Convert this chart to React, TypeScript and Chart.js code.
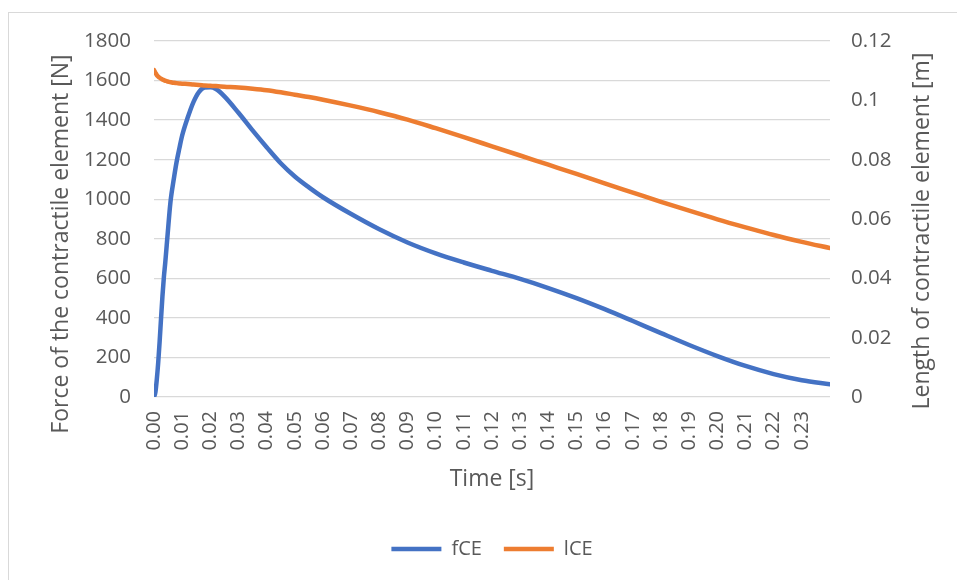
import { useEffect, useRef } from "react";
import { Chart, registerables } from "chart.js";

Chart.register(...registerables);

// Simulation time [s]
const timeS = [
  0, 0.0005, 0.001, 0.0015, 0.002, 0.0025, 0.003, 0.0035, 0.004, 0.0045,
  0.005, 0.0055, 0.006, 0.007, 0.008, 0.009, 0.01, 0.012, 0.014, 0.016,
  0.018, 0.02, 0.022, 0.025, 0.03, 0.035, 0.04, 0.045, 0.05, 0.055,
  0.06, 0.07, 0.08, 0.09, 0.1, 0.11, 0.12, 0.13, 0.14, 0.15,
  0.16, 0.17, 0.18, 0.19, 0.2, 0.21, 0.22, 0.23, 0.24,
];

// Force of the contractile element [N]
const fCE = [
  0, 25, 90, 175, 280, 397, 510, 605, 680, 765,
  850, 935, 1005, 1100, 1187, 1257, 1322, 1414, 1491, 1543,
  1565, 1566, 1557, 1520, 1437, 1348, 1263, 1182, 1115, 1060,
  1010, 925, 848, 781, 726, 680, 638, 597, 551, 500,
  444, 384, 323, 263, 207, 157, 116, 85, 64,
];

// Length of the contractile element [m]
const lCE = [
  0.1102, 0.1093, 0.1085, 0.108, 0.1076, 0.1073, 0.107, 0.1068, 0.1066, 0.1065,
  0.1063, 0.1062, 0.1061, 0.1059, 0.1058, 0.1057, 0.1056, 0.1055, 0.1053, 0.1052,
  0.105, 0.1049, 0.1048, 0.1046, 0.1043, 0.1039, 0.1034, 0.1027, 0.1019, 0.1011,
  0.1002, 0.0982, 0.096, 0.0935, 0.0906, 0.0876, 0.0845, 0.0814, 0.0783, 0.0752,
  0.072, 0.0689, 0.0658, 0.0628, 0.0599, 0.0572, 0.0546, 0.0523, 0.0502,
];

// Time axis labels
const timeTicks = [
  0, 0.01, 0.02, 0.03, 0.04, 0.05, 0.06, 0.07, 0.08, 0.09, 0.1, 0.11,
  0.12, 0.13, 0.14, 0.15, 0.16, 0.17, 0.18, 0.19, 0.2, 0.21, 0.22, 0.23,
];

const FONT = "'Open Sans', sans-serif";
const TEXT = "#595959";
const GRID = "#d9d9d9";
const BLUE = "#4472C4";
const ORANGE = "#ED7D31";

const LEFT_TITLE = "Force of the contractile element [N]";
const RIGHT_TITLE = "Length of contractile element [m]";

// White background, light chart frame and the two vertical axis titles
const framePlugin = {
  id: "frame",
  beforeDraw(chart: any) {
    const ctx = chart.ctx;
    ctx.save();
    ctx.fillStyle = "#ffffff";
    ctx.fillRect(0, 0, chart.width, chart.height);
    ctx.strokeStyle = GRID;
    ctx.lineWidth = 1;
    ctx.strokeRect(8.5, 12.5, chart.width + 40, chart.height + 40);
    ctx.restore();
  },
  afterDraw(chart: any) {
    const ctx = chart.ctx;
    const area = chart.chartArea;
    const mid = (area.top + area.bottom) / 2;
    ctx.save();
    ctx.font = `23px ${FONT}`;
    ctx.fillStyle = TEXT;
    ctx.textAlign = "center";
    ctx.textBaseline = "middle";
    const draw = (text: string, x: number, y: number) => {
      ctx.save();
      ctx.translate(x, y);
      ctx.rotate(-Math.PI / 2);
      ctx.fillText(text, 0, 0);
      ctx.restore();
    };
    draw(LEFT_TITLE, 61, mid + 25);
    draw(RIGHT_TITLE, 922, mid + 12);
    ctx.restore();
  },
};

export default function App() {
  const canvasRef = useRef<HTMLCanvasElement | null>(null);

  useEffect(() => {
    const canvas = canvasRef.current;
    if (!canvas) return;

    const chart = new Chart(canvas, {
      type: "line",
      data: {
        datasets: [
          {
            label: "fCE",
            data: timeS.map((t, i) => ({ x: t, y: fCE[i] })),
            borderColor: BLUE,
            backgroundColor: BLUE,
            borderWidth: 4.5,
            borderCapStyle: "round",
            borderJoinStyle: "round",
            pointRadius: 0,
            cubicInterpolationMode: "monotone",
            yAxisID: "y",
            order: 1,
          },
          {
            label: "lCE",
            data: timeS.map((t, i) => ({ x: t, y: lCE[i] })),
            borderColor: ORANGE,
            backgroundColor: ORANGE,
            borderWidth: 4.5,
            borderCapStyle: "round",
            borderJoinStyle: "round",
            pointRadius: 0,
            cubicInterpolationMode: "monotone",
            yAxisID: "y2",
            order: 0,
          },
        ],
      },
      options: {
        animation: false,
        responsive: false,
        maintainAspectRatio: false,
        layout: { padding: { left: 27, right: 0, top: 41, bottom: 11 } },
        plugins: {
          tooltip: { enabled: false },
          legend: {
            position: "bottom",
            labels: {
              usePointStyle: true,
              pointStyle: "line",
              pointStyleWidth: 50,
              padding: 22,
              color: TEXT,
              font: { family: FONT, size: 20 },
              sort: (a: any, b: any) => a.datasetIndex - b.datasetIndex,
            },
          },
        },
        scales: {
          x: {
            type: "linear",
            min: 0,
            max: 0.24,
            afterBuildTicks: (scale: any) => {
              scale.ticks = timeTicks.map((v) => ({ value: v }));
            },
            afterFit: (scale: any) => {
              scale.height = 120;
            },
            grid: { display: false, drawTicks: false },
            border: { display: false },
            ticks: {
              autoSkip: false,
              minRotation: 90,
              maxRotation: 90,
              padding: 14,
              color: TEXT,
              font: { family: FONT, size: 20 },
              callback: (v: any) => Number(v).toFixed(2),
            },
            title: {
              display: true,
              text: "Time [s]",
              color: TEXT,
              font: { family: FONT, size: 23 },
              padding: { top: 0, bottom: 24 },
            },
          },
          y: {
            position: "left",
            min: 0,
            max: 1800,
            afterFit: (scale: any) => {
              scale.width = 127;
            },
            grid: { color: GRID, lineWidth: 1.3, drawTicks: false },
            border: { display: false },
            ticks: {
              stepSize: 200,
              padding: 23,
              color: TEXT,
              font: { family: FONT, size: 20.5 },
              callback: (v: any) => String(v),
            },
          },
          y2: {
            position: "right",
            min: 0,
            max: 0.12,
            afterFit: (scale: any) => {
              scale.width = 127;
            },
            grid: { display: false, drawTicks: false },
            border: { display: false },
            ticks: {
              stepSize: 0.02,
              padding: 21,
              color: TEXT,
              font: { family: FONT, size: 20.5 },
              callback: (v: any) => String(Number(Number(v).toFixed(2))),
            },
          },
        },
      },
      plugins: [framePlugin],
    });

    return () => chart.destroy();
  }, []);

  return (
    <div style={{ position: "absolute", left: 0, top: 0, width: 957, height: 580 }}>
      <canvas ref={canvasRef} width={957} height={580} style={{ display: "block" }} />
    </div>
  );
}
